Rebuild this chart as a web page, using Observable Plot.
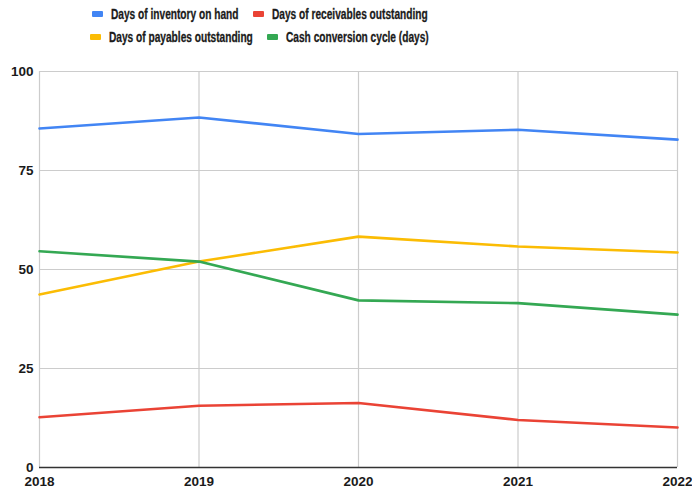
<!DOCTYPE html>
<html>
<head>
<meta charset="utf-8">
<script src="https://cdn.jsdelivr.net/npm/d3@7"></script>
<script src="https://cdn.jsdelivr.net/npm/@observablehq/plot@0.6"></script>
<style>
  body { margin: 0; background: #fff; }
  #wrap { width: 692px; font-family: "Liberation Sans", Arial, sans-serif; font-weight: bold; }
  #legend { height: 50px; width: 519px; padding-top: 2px; box-sizing: border-box; }
  .row { display: flex; justify-content: center; gap: 15px; height: 23px; align-items: center; font-size: 14.5px; color: #1a1a1a; }
  .item { display: flex; align-items: center; gap: 8px; }
  .sw { width: 11px; height: 6px; border-radius: 1px; display: inline-block; flex: none; }
  .lbl { display: inline-block; white-space: nowrap; overflow: visible; }
  .lbl span { display: inline-block; transform-origin: left center; transform: scaleX(0.7); -webkit-text-stroke: 0.3px #1a1a1a; }
  svg text { font-family: "Liberation Sans", Arial, sans-serif; font-weight: bold; }
</style>
</head>
<body>
<div id="wrap">
  <div id="legend"></div>
  <div id="chart"></div>
</div>
<script>
// Working-capital metrics by fiscal year
const years = [2018, 2019, 2020, 2021, 2022];
const inventoryDays = [85.6, 88.4, 84.2, 85.3, 82.8];
const receivableDays = [12.7, 15.6, 16.3, 12.0, 10.1];
const payableDays = [43.7, 52.0, 58.3, 55.8, 54.3];
const cashCycleDays = [54.6, 52.0, 42.2, 41.5, 38.6];

const seriesNames = [
  "Days of inventory on hand",
  "Days of receivables outstanding",
  "Days of payables outstanding",
  "Cash conversion cycle (days)"
];
const seriesColors = ["#4285F4", "#EA4335", "#FBBC04", "#34A853"];
const yTicks = [0, 25, 50, 75, 100];

const seriesValues = [inventoryDays, receivableDays, payableDays, cashCycleDays];
const rows = seriesValues.flatMap((vals, i) =>
  years.map((yr, j) => ({ year: yr, value: vals[j], series: seriesNames[i] }))
);

// Legend: two rows in series order, with condensed labels
const legend = document.getElementById("legend");
const labelScale = 0.7;
[[0, 1], [2, 3]].forEach(pair => {
  const row = document.createElement("div");
  row.className = "row";
  pair.forEach(i => {
    const it = document.createElement("span");
    it.className = "item";
    it.innerHTML = `<span class="sw" style="background:${seriesColors[i]}"></span><span class="lbl"><span>${seriesNames[i]}</span></span>`;
    row.appendChild(it);
  });
  legend.appendChild(row);
});
legend.querySelectorAll(".lbl").forEach(box => {
  const inner = box.firstChild;
  box.style.width = (inner.offsetWidth * labelScale) + "px";
});

const chart = Plot.plot({
  width: 692,
  height: 442,
  marginLeft: 39,
  marginRight: 15,
  marginTop: 21,
  marginBottom: 25,
  style: { fontSize: "13.5px", color: "#1a1a1a", background: "#fff" },
  x: { domain: [2018, 2022], ticks: years, tickFormat: d => String(d), label: null },
  y: { domain: [0, 100], ticks: yTicks, label: null },
  color: { domain: seriesNames, range: seriesColors },
  marks: [
    Plot.gridY(yTicks, { stroke: "#ccc", strokeOpacity: 1, strokeWidth: 1.2 }),
    Plot.gridX(years, { stroke: "#ccc", strokeOpacity: 1, strokeWidth: 1.2 }),
    Plot.axisX({ ticks: years, tickFormat: d => String(d), tickSize: 0, tickPadding: 9, fontWeight: "bold", textAnchor: "middle" }),
    Plot.axisY({ ticks: yTicks, tickSize: 0, tickPadding: 6, fontWeight: "bold" }),
    Plot.ruleY([0], { stroke: "#333", strokeWidth: 1.3 }),
    Plot.line(rows, { x: "year", y: "value", z: "series", stroke: "series", strokeWidth: 2.6 })
  ]
});
document.getElementById("chart").appendChild(chart);
</script>
</body>
</html>
